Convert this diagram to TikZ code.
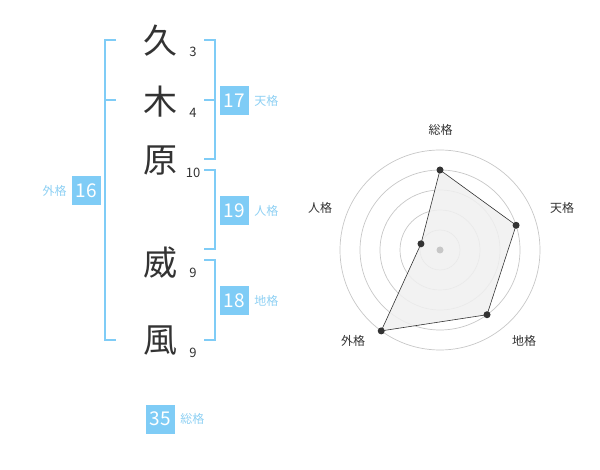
\documentclass[tikz,border=0pt]{standalone}
\usepackage{fontspec}
\setmainfont{Noto Sans CJK JP}
\usepackage{tikz}
\definecolor{boxblue}{HTML}{7FCCF6}
\definecolor{labelblue}{HTML}{8ED0F3}
\definecolor{inkgray}{HTML}{333333}

\begin{document}
\begin{tikzpicture}[x=1pt,y=-1pt,
    kanji/.style={text=inkgray, font=\fontsize{34}{34}\selectfont, inner sep=0pt},
    strokes/.style={text=inkgray, font=\fontsize{13}{13}\selectfont, inner sep=0pt},
    score/.style={fill=boxblue, text=white, minimum size=29pt, inner sep=0pt, font=\fontsize{19}{19}\selectfont},
    kaku/.style={text=labelblue, font=\fontsize{12}{12}\selectfont, inner sep=0pt},
    bracket/.style={draw=boxblue, line width=2pt},
    ring/.style={draw=black!22, line width=0.7pt},
    axis/.style={text=inkgray, font=\fontsize{12}{12}\selectfont, inner sep=0pt},
    dot/.style={circle, fill=inkgray, inner sep=0pt, minimum size=7pt}]
  \useasboundingbox (0,0) rectangle (600,470);

  % name characters and stroke counts
  \node[kanji] (k1) at (160,41) {久};
  \node[kanji] (k2) at (160,102) {木};
  \node[kanji] (k3) at (160,161) {原};
  \node[kanji] (k4) at (160,263) {威};
  \node[kanji] (k5) at (160,341) {風};
  \node[strokes] (s1) at (193,52) {3};
  \node[strokes] (s2) at (193,113) {4};
  \node[strokes] (s3) at (193,173) {10};
  \node[strokes] (s4) at (193,273) {9};
  \node[strokes] (s5) at (193,353) {9};

  % brackets
  \draw[bracket] (116,40) -- (105,40) -- (105,340) -- (116,340);
  \draw[bracket] (105,100) -- (116,100);
  \draw[bracket] (204,40) -- (215,40) -- (215,159) -- (204,159);
  \draw[bracket] (204,100) -- (215,100);
  \draw[bracket] (204,170) -- (215,170) -- (215,249) -- (204,249);
  \draw[bracket] (204,260) -- (215,260) -- (215,340) -- (204,340);

  % scores
  \node[score] (ten) at (234.5,100.5) {17};
  \node[kaku, anchor=west] (tenl) at (ten.east) [xshift=5pt] {天格};
  \node[score] (jin) at (234.5,210.5) {19};
  \node[kaku, anchor=west] (jinl) at (jin.east) [xshift=5pt] {人格};
  \node[score] (chi) at (234.5,300.5) {18};
  \node[kaku, anchor=west] (chil) at (chi.east) [xshift=5pt] {地格};
  \node[score] (gai) at (86.5,191) {16};
  \node[kaku, anchor=east] (gail) at (gai.west) [xshift=-5pt] {外格};
  \node[score] (sou) at (160.5,419) {35};
  \node[kaku, anchor=west] (soul) at (sou.east) [xshift=5pt] {総格};

  % radar chart
  \begin{scope}[shift={(440,250)}, y=1pt]
    \foreach \r in {20,40,...,100}
      \draw[ring] (0,0) circle[radius=\r pt];
    \coordinate (pSou) at (90:80);
    \coordinate (pTen) at (18:80);
    \coordinate (pChi) at (-54:80);
    \coordinate (pGai) at (-126:100);
    \coordinate (pJin) at (162:20);
    \filldraw[fill=black!6, fill opacity=0.85, draw=inkgray, line width=0.6pt]
      (pSou) -- (pTen) -- (pChi) -- (pGai) -- (pJin) -- cycle;
    \fill[black!22] (0,0) circle[radius=3.5pt];
    \foreach \p in {pSou,pTen,pChi,pGai,pJin}
      \node[dot] at (\p) {};
    \node[axis] (aSou) at (0.5,120) {総格};
    \node[axis] (aTen) at (122,42) {天格};
    \node[axis] (aChi) at (84,-91) {地格};
    \node[axis] (aGai) at (-87,-91) {外格};
    \node[axis] (aJin) at (-120,42) {人格};
  \end{scope}
\end{tikzpicture}
\end{document}
